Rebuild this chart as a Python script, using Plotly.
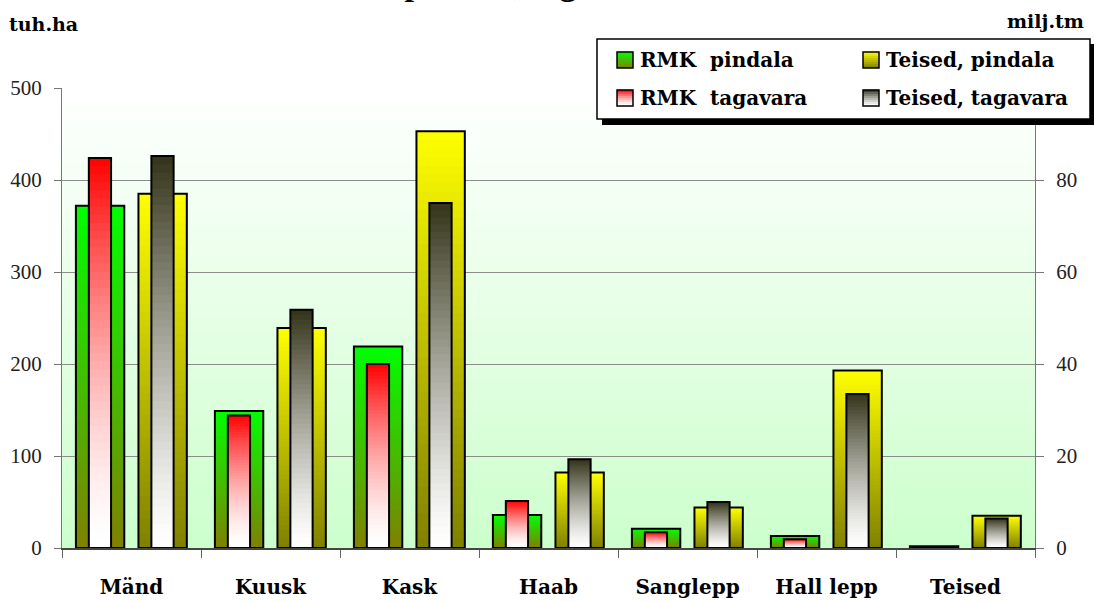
import plotly.graph_objects as go

# ---- data -------------------------------------------------------------
categories = ["Mänd", "Kuusk", "Kask", "Haab", "Sanglepp", "Hall lepp", "Teised"]
rmk_pindala = [372, 149, 219, 36, 21, 13, 2]          # tuh.ha
teised_pindala = [385, 239, 453, 82, 44, 193, 35]     # tuh.ha
rmk_tagavara = [84.8, 28.8, 40.0, 10.2, 3.4, 1.9, 0.1]      # milj.tm
teised_tagavara = [85.2, 51.8, 75.0, 19.3, 10.0, 33.5, 6.4]  # milj.tm
left_ticks = [0, 100, 200, 300, 400, 500]
right_ticks = [0, 20, 40, 60, 80]

W, H = 1094, 602
ML, MR, MT, MB = 62, 59, 88, 54
FONT = "Liberation Serif, Times New Roman, serif"
BFONT = "DejaVu Serif, Liberation Serif, serif"
N_STEPS = 48


def fx(X):
    return (X - ML) / (W - ML - MR)


def fy(Y):
    return (H - MB - Y) / (H - MT - MB)


def mix(top, bottom, t):
    return "rgb(%d,%d,%d)" % tuple(round(b + (a - b) * t) for a, b in zip(top, bottom))


def gradient_bars(values, top, bottom, gamma, offset, width, yaxis):
    """Bars with a vertical gradient: nested bars, tallest first, each one shorter."""
    xs, ys, cols = [], [], []
    for i in range(N_STEPS):
        frac = (N_STEPS - i) / N_STEPS
        t = ((N_STEPS - i - 0.5) / N_STEPS) ** gamma
        for c, v in zip(categories, values):
            xs.append(c)
            ys.append(v * frac)
            cols.append(mix(top, bottom, t))
    fill = go.Bar(x=xs, y=ys, offset=offset, width=width, yaxis=yaxis,
                  marker=dict(color=cols, line=dict(width=0)),
                  showlegend=False, hoverinfo="skip")
    outline = go.Bar(x=categories, y=values, offset=offset, width=width, yaxis=yaxis,
                     marker=dict(color="rgba(0,0,0,0)", line=dict(color="black", width=2)),
                     showlegend=False)
    return [fill, outline]


GREEN = ((0, 255, 0), (128, 128, 0), 1.0)
YELLOW = ((255, 255, 0), (128, 128, 0), 1.0)
RED = ((255, 0, 0), (255, 255, 255), 1.5)
GREY = ((51, 51, 25), (255, 255, 255), 1.3)

fig = go.Figure()
for tr in gradient_bars(rmk_pindala, *GREEN, -0.40, 0.348, "y"):
    fig.add_trace(tr)
for tr in gradient_bars(teised_pindala, *YELLOW, 0.05, 0.348, "y"):
    fig.add_trace(tr)
for tr in gradient_bars(rmk_tagavara, *RED, -0.307, 0.16, "y2"):
    fig.add_trace(tr)
for tr in gradient_bars(teised_tagavara, *GREY, 0.143, 0.16, "y2"):
    fig.add_trace(tr)

shapes = []
# plot area background gradient (white on top to pale green at the bottom)
nb = 60
for i in range(nb):
    shapes.append(dict(type="rect", xref="paper", yref="paper", layer="below",
                       x0=0, x1=1, y0=i / nb, y1=(i + 1) / nb + 0.004,
                       fillcolor=mix((255, 255, 255), (204, 255, 204), (i + 0.5) / nb),
                       line=dict(width=0)))

# legend box with shadow
shapes.append(dict(type="rect", xref="paper", yref="paper", layer="above",
                   x0=fx(602), x1=fx(1096), y0=fy(44), y1=fy(125),
                   fillcolor="black", line=dict(width=0)))
shapes.append(dict(type="rect", xref="paper", yref="paper", layer="above",
                   x0=fx(597), x1=fx(1090), y0=fy(39), y1=fy(119),
                   fillcolor="white", line=dict(color="black", width=1.5)))

annotations = []
legend_items = [("RMK\u00a0 pindala", GREEN, 617, 60), ("Teised, pindala", YELLOW, 863, 60),
                ("RMK\u00a0 tagavara", RED, 617, 98), ("Teised, tagavara", GREY, 863, 98)]
for name, (top, bottom, g), X, Y in legend_items:
    ns = 8
    for i in range(ns):
        y_lo = Y + 8 - 16 * i / ns
        y_hi = Y + 8 - 16 * (i + 1) / ns
        shapes.append(dict(type="rect", xref="paper", yref="paper", layer="above",
                           x0=fx(X), x1=fx(X + 16), y0=fy(y_lo), y1=fy(y_hi - 0.3),
                           fillcolor=mix(top, bottom, ((i + 0.5) / ns) ** g),
                           line=dict(width=0)))
    shapes.append(dict(type="rect", xref="paper", yref="paper", layer="above",
                       x0=fx(X), x1=fx(X + 16), y0=fy(Y + 8), y1=fy(Y - 8),
                       line=dict(color="black", width=1.5)))
    annotations.append(dict(text="<b>%s</b>" % name, xref="paper", yref="paper",
                            x=fx(X + 21), y=fy(Y), xanchor="left", yanchor="middle",
                            showarrow=False, font=dict(family=BFONT, size=20, color="black")))

# title (only its lower part is inside the picture, as in the original)
annotations.append(dict(text="<b>Puistute pindala, tagavara</b>", xref="paper", yref="paper",
                        x=fx(468), y=fy(4), xanchor="center", yanchor="bottom",
                        showarrow=False, font=dict(family=FONT, size=34, color="black")))
annotations.append(dict(text="<b>tuh.ha</b>", xref="paper", yref="paper",
                        x=fx(7), y=fy(24), xanchor="left", yanchor="middle",
                        showarrow=False, font=dict(family=BFONT, size=19, color="black")))
annotations.append(dict(text="<b>milj.tm</b>", xref="paper", yref="paper",
                        x=fx(1086), y=fy(21), xanchor="right", yanchor="middle",
                        showarrow=False, font=dict(family=BFONT, size=19, color="black")))

fig.update_layout(
    width=W, height=H,
    margin=dict(l=ML, r=MR, t=MT, b=MB),
    barmode="overlay",
    paper_bgcolor="white",
    plot_bgcolor="white",
    showlegend=False,
    shapes=shapes,
    annotations=annotations,
    xaxis=dict(type="category", categoryorder="array", categoryarray=categories,
               automargin=False,
               showline=True, linecolor="#444444", linewidth=2,
               ticks="outside", tickson="boundaries", ticklen=8, tickcolor="#666666",
               ticklabelstandoff=20, showgrid=False,
               tickfont=dict(family=BFONT, size=20, color="black"),
               tickprefix="<b>", ticksuffix="</b>"),
    yaxis=dict(range=[0, 500], tickvals=left_ticks, automargin=False,
               showgrid=True, gridcolor="#8c8c8c",
               gridwidth=1, zeroline=False, showline=True, linecolor="#777777", linewidth=1,
               ticks="outside", ticklen=7, tickcolor="#777777", ticklabelstandoff=8,
               tickfont=dict(family=FONT, size=21, color="#222222")),
    yaxis2=dict(range=[0, 100], tickvals=right_ticks, overlaying="y", side="right",
                automargin=False,
                showgrid=False, zeroline=False, showline=True, linecolor="#777777",
                linewidth=1, ticks="outside", ticklen=8, tickcolor="#777777",
                ticklabelstandoff=8, tickfont=dict(family=FONT, size=21, color="#222222")),
)

# the page body has a default 8px margin; drop it so the figure sits at the corner
fig.write_html("out.html", config={"displayModeBar": False},
               post_script="document.body.style.margin='0';")
